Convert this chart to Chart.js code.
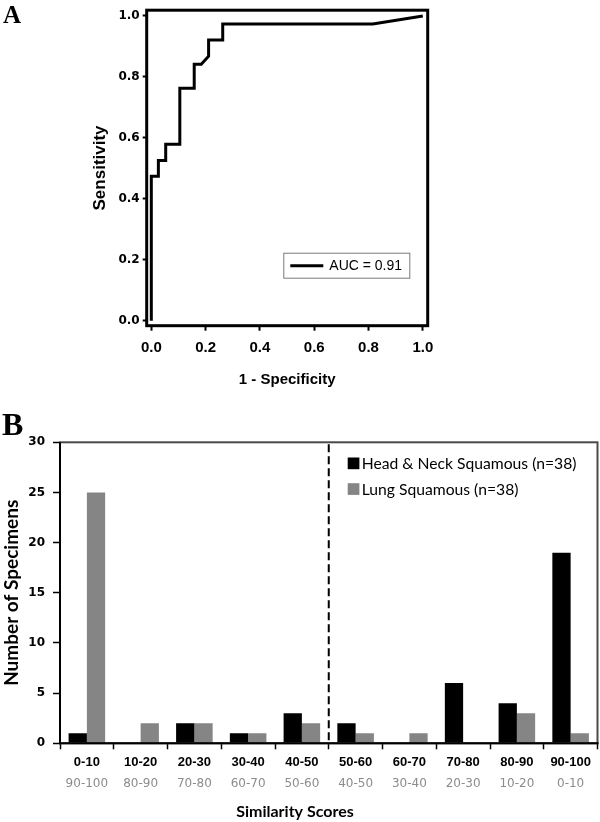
<!DOCTYPE html>
<html><head><meta charset="utf-8">
<script src="https://cdn.jsdelivr.net/npm/chart.js@4.4.1/dist/chart.umd.min.js"></script>
<style>
html,body{margin:0;padding:0;background:#fff;width:600px;height:822px;overflow:hidden;position:relative}
#wrapA{position:absolute;left:0;top:0;width:600px;height:400px}
#wrapB{position:absolute;left:0;top:400px;width:600px;height:422px}
.panel{position:absolute;font-family:"Liberation Serif","Times New Roman",serif;font-weight:bold;line-height:1;color:#000}
</style></head><body>
<div id="wrapA"><canvas id="cA" width="600" height="400"></canvas></div>
<div id="wrapB"><canvas id="cB" width="600" height="422"></canvas></div>
<div class="panel" style="left:3px;top:2px;font-size:25px">A</div>
<div class="panel" style="left:2px;top:408px;font-size:32px">B</div>
<script>
// ---------- Panel A data (ROC curve) ----------
const rocFpr = [0, 0, 0.026, 0.026, 0.053, 0.053, 0.105, 0.105, 0.158, 0.158, 0.184, 0.211, 0.211, 0.263, 0.263, 0.816, 1.0];
const rocTpr = [0, 0.474, 0.474, 0.526, 0.526, 0.579, 0.579, 0.763, 0.763, 0.842, 0.842, 0.868, 0.921, 0.921, 0.974, 0.974, 1.0];
const rocTicks = [0, 0.2, 0.4, 0.6, 0.8, 1.0];
const aucLabel = 'AUC = 0.91';
const rocXTitle = '1 - Specificity';
const rocYTitle = 'Sensitivity';

// ---------- Panel B data (histogram) ----------
const scoreBins = ['0-10', '10-20', '20-30', '30-40', '40-50', '50-60', '60-70', '70-80', '80-90', '90-100'];
const lungBins = ['90-100', '80-90', '70-80', '60-70', '50-60', '40-50', '30-40', '20-30', '10-20', '0-10'];
const headNeck = [1, 0, 2, 1, 3, 2, 0, 6, 4, 19];
const lungSq = [25, 2, 2, 1, 2, 1, 1, 0, 3, 1];
const countTicks = [0, 5, 10, 15, 20, 25, 30];
const headNeckLabel = 'Head & Neck Squamous (n=38)';
const lungLabel = 'Lung Squamous (n=38)';
const histXTitle = 'Similarity Scores';
const histYTitle = 'Number of Specimens';
const cutoffAfterBin = 4; // dashed line between "40-50" and "50-60"

const SANS = "'Liberation Sans', Arial, sans-serif";
const DEJA = "'DejaVu Sans', Verdana, sans-serif";
const LATO = "Lato, 'Open Sans', sans-serif";

const boxA = {
  id: 'boxA',
  afterDraw(chart) {
    const {ctx, chartArea: a} = chart;
    ctx.save();
    ctx.strokeStyle = '#000'; ctx.lineWidth = 3;
    ctx.strokeRect(a.left, a.top, a.right - a.left, a.bottom - a.top);
    // legend
    const ds = chart.data.datasets[0];
    const lx = a.right - 144.4, ly = a.bottom - 73, lw = 126, lh = 25;
    ctx.lineWidth = 1; ctx.strokeStyle = '#7a7a7a';
    ctx.strokeRect(lx + 0.5, ly + 0.5, lw, lh);
    ctx.beginPath(); ctx.strokeStyle = ds.borderColor; ctx.lineWidth = 3;
    ctx.moveTo(lx + 7, ly + lh / 2 + 0.5); ctx.lineTo(lx + 40, ly + lh / 2 + 0.5); ctx.stroke();
    ctx.fillStyle = '#000'; ctx.font = '14px ' + SANS; ctx.textBaseline = 'middle'; ctx.textAlign = 'left';
    ctx.fillText(ds.label, lx + 46, ly + lh / 2 + 1);
    ctx.restore();
  }
};

const decoB = {
  id: 'decoB',
  afterDatasetsDraw(chart) {
    const {ctx, chartArea: a, scales} = chart;
    const xs = scales.x;
    const xd = (xs.getPixelForValue(cutoffAfterBin) + xs.getPixelForValue(cutoffAfterBin + 1)) / 2;
    ctx.save();
    ctx.strokeStyle = '#000'; ctx.lineWidth = 2; ctx.setLineDash([8, 4]);
    ctx.beginPath(); ctx.moveTo(xd, a.top + 2); ctx.lineTo(xd, a.bottom); ctx.stroke();
    ctx.restore();
  },
  afterDraw(chart) {
    const {ctx, chartArea: a} = chart;
    ctx.save();
    ctx.strokeStyle = '#4a4a4a'; ctx.lineWidth = 2;
    ctx.strokeRect(a.left, a.top, a.right - a.left, a.bottom - a.top);
    ctx.strokeStyle = '#000';
    ctx.beginPath(); ctx.moveTo(a.left - 1, a.bottom); ctx.lineTo(a.right + 1, a.bottom); ctx.stroke();
    ctx.beginPath(); ctx.moveTo(a.left, a.top); ctx.lineTo(a.left, a.bottom); ctx.stroke();
    // legend
    const items = chart.data.datasets;
    ctx.font = '15.7px ' + LATO; ctx.textBaseline = 'middle'; ctx.textAlign = 'left';
    items.forEach((ds, i) => {
      const y = a.top + 21 + i * 25.7;
      ctx.fillStyle = ds.backgroundColor;
      ctx.fillRect(a.left + 287.7, y - 5.8, 11.7, 11.7);
      ctx.fillStyle = '#000';
      ctx.fillText(ds.label, a.left + 301.7, y + 0.5);
    });
    // x-axis title (sits left of centre in the original)
    ctx.font = 'bold 16px ' + LATO; ctx.textAlign = 'center';
    ctx.fillText(histXTitle, a.left + 235, a.bottom + 68.7);
    ctx.restore();
  }
};

function makeCharts() {
  const chartA = new Chart(document.getElementById('cA'), {
    type: 'line',
    data: {
      datasets: [{
        label: aucLabel,
        data: rocFpr.map((x, i) => ({x: x, y: rocTpr[i]})),
        borderColor: '#000', borderWidth: 3, pointRadius: 0, fill: false, tension: 0,
        borderJoinStyle: 'miter', borderCapStyle: 'butt'
      }]
    },
    options: {
      responsive: false, animation: false, devicePixelRatio: 1,
      layout: {padding: {left: 0, top: 10, right: 172.3, bottom: 0}},
      plugins: {legend: {display: false}, tooltip: {enabled: false}},
      scales: {
        x: {
          type: 'linear', min: -0.017, max: 1.018,
          afterBuildTicks: s => { s.ticks = rocTicks.map(v => ({value: v})); },
          afterFit: s => { s.height = 74.3; },
          grid: {drawOnChartArea: false, drawTicks: true, tickLength: 5, tickWidth: 2, tickColor: '#000'},
          border: {display: false},
          ticks: {color: '#000', font: {family: SANS, size: 15, weight: 'bold'}, padding: 8,
                  autoSkip: false, maxRotation: 0, callback: v => Number(v).toFixed(1)},
          title: {display: true, text: rocXTitle, color: '#000',
                  font: {family: SANS, size: 15, weight: 'bold'}, padding: {top: 0, bottom: 11}}
        },
        y: {
          type: 'linear', min: -0.016, max: 1.019,
          afterBuildTicks: s => { s.ticks = rocTicks.map(v => ({value: v})); },
          afterFit: s => { s.width = 146.7; },
          grid: {drawOnChartArea: false, drawTicks: true, tickLength: 4, tickWidth: 2, tickColor: '#000'},
          border: {display: false},
          ticks: {color: '#000', font: {family: DEJA, size: 12, weight: 'bold'}, padding: 3,
                  autoSkip: false, callback: v => Number(v).toFixed(1)},
          title: {display: true, text: rocYTitle, color: '#000',
                  font: {family: SANS, size: 17, weight: 'bold'}, padding: {top: 89.8, bottom: 0}}
        }
      }
    },
    plugins: [boxA]
  });

  const chartB = new Chart(document.getElementById('cB'), {
    type: 'bar',
    data: {
      labels: scoreBins,
      datasets: [
        {label: headNeckLabel, data: headNeck, backgroundColor: '#000000', borderWidth: 0,
         categoryPercentage: 0.68, barPercentage: 1.0},
        {label: lungLabel, data: lungSq, backgroundColor: '#858585', borderWidth: 0,
         categoryPercentage: 0.68, barPercentage: 1.0}
      ]
    },
    options: {
      responsive: false, animation: false, devicePixelRatio: 1,
      layout: {padding: {left: 0, top: 42.3, right: 2.5, bottom: 0}},
      plugins: {legend: {display: false}, tooltip: {enabled: false}},
      scales: {
        x: {
          type: 'category', offset: true, weight: 0,
          afterFit: s => { s.height = 30; },
          grid: {offset: true, drawOnChartArea: false, drawTicks: true, tickLength: 6, tickWidth: 1.5, tickColor: '#000'},
          border: {display: false},
          ticks: {color: '#000', font: {family: SANS, size: 13, weight: 'bold'}, padding: 5, autoSkip: false, maxRotation: 0}
        },
        x2: {
          type: 'category', labels: lungBins, position: 'bottom', offset: true, weight: 1,
          afterFit: s => { s.height = 48.7; },
          grid: {display: false, drawTicks: false, drawOnChartArea: false},
          border: {display: false},
          ticks: {color: '#8c8c8c', font: {family: DEJA, size: 12}, padding: 3.3, autoSkip: false, maxRotation: 0}
        },
        y: {
          type: 'linear', min: 0, max: 30,
          afterBuildTicks: s => { s.ticks = countTicks.map(v => ({value: v})); },
          afterFit: s => { s.width = 60; },
          grid: {drawOnChartArea: false, drawTicks: true, tickLength: 7, tickWidth: 1.5, tickColor: '#000'},
          border: {display: false},
          ticks: {color: '#000', font: {family: DEJA, size: 12, weight: 'bold'}, padding: 8, autoSkip: false},
          title: {display: true, text: histYTitle, color: '#000',
                  font: {family: LATO, size: 19, weight: 'bold'}, padding: {top: 0, bottom: 0}}
        }
      }
    },
    plugins: [decoB]
  });
  return [chartA, chartB];
}

let charts = makeCharts();
if (document.fonts && document.fonts.ready) {
  document.fonts.ready.then(() => { charts.forEach(c => c.update()); });
}
</script>
</body></html>
